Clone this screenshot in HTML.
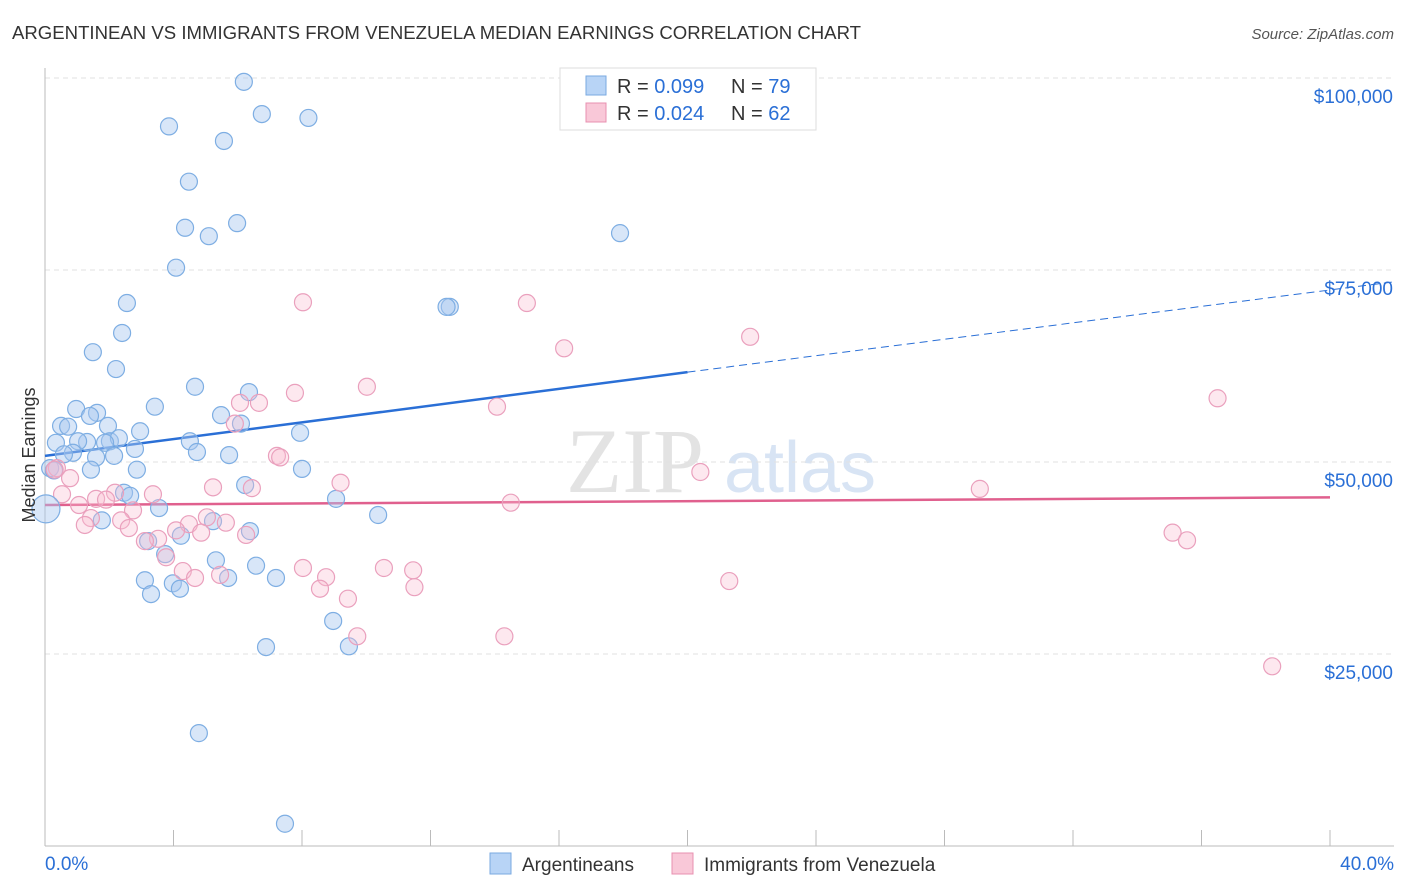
<!DOCTYPE html>
<html><head><meta charset="utf-8"><style>
body{margin:0;background:#fff;font-family:"Liberation Sans",sans-serif;}
svg{display:block}
</style></head><body>
<svg id="chart" width="1406" height="892" viewBox="0 0 1406 892">
<text x="12" y="39" font-size="18" fill="#333" textLength="849" lengthAdjust="spacingAndGlyphs">ARGENTINEAN VS IMMIGRANTS FROM VENEZUELA MEDIAN EARNINGS CORRELATION CHART</text>
<text x="1394" y="39" font-size="15" fill="#555" font-style="italic" text-anchor="end">Source: ZipAtlas.com</text>
<g>
<text x="635" y="492" font-size="92" fill="#ddd" font-family="Liberation Serif,serif" text-anchor="middle" opacity="0.8">ZIP</text>
<text x="800" y="492" font-size="72" fill="#c8daf0" text-anchor="middle" opacity="0.7">atlas</text>
</g>
<g id="grid"></g>
<g id="axes"></g>
<g id="trends"></g>
<g id="points"></g>
<text x="35" y="455" font-size="18" fill="#333" text-anchor="middle" transform="rotate(-90 35 455)">Median Earnings</text>
<g>
<rect x="560" y="68" width="256" height="62" fill="#fff" stroke="#ddd"/>
<rect x="586" y="76" width="20" height="19" fill="#b8d4f6" stroke="#7aaae0"/>
<rect x="586" y="103" width="20" height="19" fill="#f9c8d8" stroke="#e890b0"/>
<text x="617" y="93" font-size="20" fill="#333">R = <tspan fill="#2a6fd6">0.099</tspan></text>
<text x="731" y="93" font-size="20" fill="#333">N = <tspan fill="#2a6fd6">79</tspan></text>
<text x="617" y="120" font-size="20" fill="#333">R = <tspan fill="#2a6fd6">0.024</tspan></text>
<text x="731" y="120" font-size="20" fill="#333">N = <tspan fill="#2a6fd6">62</tspan></text>
</g>
<g>
<rect x="490" y="853" width="21" height="21" fill="#b8d4f6" stroke="#7aaae0"/>
<text x="522" y="871" font-size="19" fill="#333">Argentineans</text>
<rect x="672" y="853" width="21" height="21" fill="#f9c8d8" stroke="#e890b0"/>
<text x="704" y="871" font-size="19" fill="#333">Immigrants from Venezuela</text>
</g>
</svg>
<script>
const yTicks=[25000,50000,75000,100000];
const yTickLabels=["$25,000","$50,000","$75,000","$100,000"];
const xTickVals=[0,4,8,12,16,20,24,28,32,36,40];
const blueX=[6.19,6.75,8.2,3.86,5.57,4.48,5.98,4.36,5.1,17.9,4.08,12.6,12.5,2.55,2.4,1.49,2.21,4.67,6.35,0.97,3.42,1.62,1.4,5.48,6.1,0.5,0.72,1.96,2.96,7.94,0.34,1.31,1.03,2.02,2.3,4.51,2.8,1.87,0.87,0.59,2.15,1.59,4.73,5.73,0.16,0.28,1.43,2.86,8.0,6.23,2.46,2.65,9.06,3.55,10.37,5.23,1.77,6.38,4.23,3.21,3.74,5.32,6.57,5.7,7.19,3.11,3.98,4.2,3.3,8.97,6.88,9.46,4.79,7.47];
const blueY=[99.5,95.3,94.8,93.7,91.8,86.5,81.1,80.5,79.4,79.8,75.3,70.2,70.2,70.7,66.8,64.3,62.1,59.8,59.1,56.9,57.2,56.4,56.0,56.1,55.0,54.7,54.6,54.7,54.0,53.8,52.5,52.6,52.7,52.7,53.1,52.7,51.7,52.5,51.2,51.0,50.8,50.6,51.3,50.9,49.2,48.9,49.0,49.0,49.1,47.0,46.0,45.6,45.2,44.0,43.1,42.3,42.4,41.0,40.4,39.7,38.0,37.2,36.5,34.9,34.9,34.6,34.2,33.5,32.8,29.3,25.9,26.0,14.7,2.9];
const pinkX=[8.03,15.0,21.95,16.16,10.02,7.78,36.5,6.66,6.07,14.07,5.91,7.22,7.32,20.4,0.37,0.78,9.2,5.23,6.44,29.1,0.53,3.36,2.18,1.59,1.9,14.5,1.06,2.74,5.04,1.43,2.37,4.48,5.63,1.24,2.61,4.08,4.86,6.26,3.52,3.11,35.1,35.55,3.77,4.29,8.03,10.55,11.46,4.67,5.45,8.75,21.3,11.5,8.56,9.43,9.72,14.3,38.2,0.3];
const pinkY=[70.8,70.7,66.3,64.8,59.8,59.0,58.3,57.7,57.7,57.2,55.0,50.8,50.6,48.7,49.2,47.9,47.3,46.7,46.6,46.5,45.8,45.8,46.0,45.2,45.1,44.7,44.4,43.7,42.8,42.7,42.4,41.9,42.1,41.8,41.4,41.1,40.8,40.5,40.0,39.7,40.8,39.8,37.6,35.8,36.2,36.2,35.9,34.9,35.3,35.0,34.5,33.7,33.5,32.2,27.3,27.3,23.4,49.0];
const bigX=[0.03], bigY=[43.9];
const blueTrend=[50.8,61.7,72.4]; // at 0%,20%,40% (thousands)
const pinkTrend=[44.4,45.4]; // at 0%,40%
const NS="http://www.w3.org/2000/svg";
const xs=p=>45+p/40*1285;
const ys=v=>846-v/100000*768;
function mk(t,a,parent){const e=document.createElementNS(NS,t);for(const k in a)e.setAttribute(k,a[k]);parent.appendChild(e);return e;}
const grid=document.getElementById('grid'),axes=document.getElementById('axes'),trends=document.getElementById('trends'),pts=document.getElementById('points');
mk('line',{x1:45,x2:1394,y1:ys(100000),y2:ys(100000),stroke:'#ddd','stroke-dasharray':'5,4'},grid);
yTicks.forEach((v,i)=>{
 const l=mk('line',{x1:45,x2:1394,y1:ys(v),y2:ys(v),stroke:'#e2e2e2','stroke-dasharray':'5,4'},grid);
 
 
 const t=mk('text',{x:1393,y:ys(v)+25,'font-size':19,fill:'#2a6fd6','text-anchor':'end'},axes);
 t.textContent=yTickLabels[i];
 
 
});
mk('line',{x1:45,x2:45,y1:68,y2:846,stroke:'#bbb'},axes);
mk('line',{x1:45,x2:1394,y1:846,y2:846,stroke:'#bbb'},axes);
xTickVals.forEach(v=>{const l=mk('line',{x1:xs(v),x2:xs(v),y1:830,y2:846,stroke:'#bbb'},axes);
 
 });
const t0=mk('text',{x:45,y:870,'font-size':19,fill:'#2a6fd6'},axes);t0.textContent='0.0%';

const t1=mk('text',{x:1394,y:870,'font-size':19,fill:'#2a6fd6','text-anchor':'end'},axes);t1.textContent='40.0%';

function dot(x,y,r,fill,stroke,name){const c=mk('circle',{cx:xs(x),cy:ys(y*1000),r:r,fill:fill,stroke:stroke,'stroke-width':1.2},pts);
 
 }
blueX.forEach((x,i)=>dot(x,blueY[i],8.5,'rgba(168,200,240,0.45)','#7eaee3','argentinean-point'));
pinkX.forEach((x,i)=>dot(x,pinkY[i],8.5,'rgba(248,190,210,0.35)','#eaa0bd','venezuela-point'));
bigX.forEach((x,i)=>dot(x,bigY[i],14,'rgba(168,200,240,0.45)','#7eaee3','argentinean-point-large'));
const b1=mk('line',{x1:xs(0),y1:ys(blueTrend[0]*1000),x2:xs(20),y2:ys(blueTrend[1]*1000),stroke:'#2a6fd6','stroke-width':2.5},trends);

const b2=mk('line',{x1:xs(20),y1:ys(blueTrend[1]*1000),x2:xs(40)+64,y2:ys((blueTrend[2]+(blueTrend[2]-blueTrend[1])*64/642.5)*1000),stroke:'#2a6fd6','stroke-width':1,'stroke-dasharray':'8,5'},trends);

const p1=mk('line',{x1:xs(0),y1:ys(pinkTrend[0]*1000),x2:xs(40),y2:ys(pinkTrend[1]*1000),stroke:'#e0608e','stroke-width':2.5},trends);

</script>
</body></html>
